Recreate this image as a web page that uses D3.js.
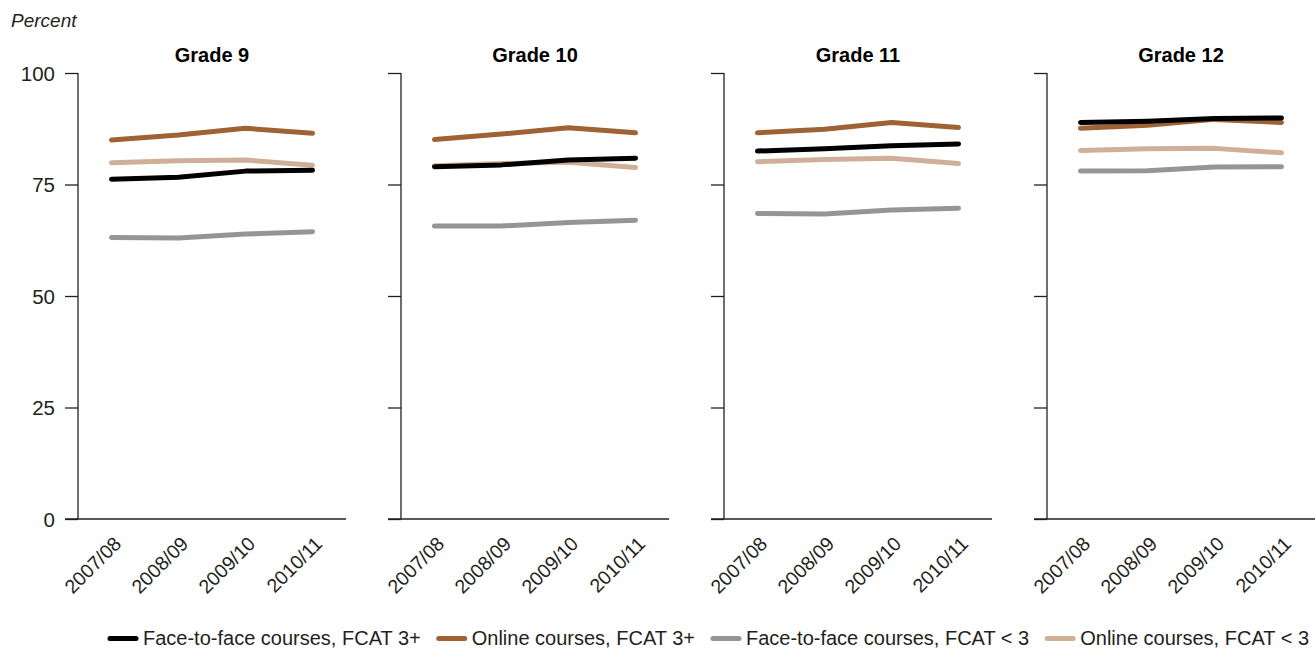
<!DOCTYPE html>
<html>
<head>
<meta charset="utf-8">
<script src="https://cdn.jsdelivr.net/npm/d3@7"></script>
<style>
  html, body { margin: 0; padding: 0; background: #fff; }
  svg { display: block; font-family: "Liberation Sans", Arial, sans-serif; }
</style>
</head>
<body>
<svg id="chart" width="1316" height="649"></svg>
<script>
const grades = ["Grade 9", "Grade 10", "Grade 11", "Grade 12"];
const years = ["2007/08", "2008/09", "2009/10", "2010/11"];
const yTicks = [0, 25, 50, 75, 100];

const seriesNames = [
  "Face-to-face courses, FCAT 3+",
  "Online courses, FCAT 3+",
  "Face-to-face courses, FCAT < 3",
  "Online courses, FCAT < 3"
];
const seriesColors = ["#000000", "#9e6235", "#939598", "#d0af98"];
// draw order: gray, tan, brown, black
const drawOrder = [2, 3, 1, 0];

// values per grade, per year
const faceToFace3 = [
  [76.2, 76.6, 78.0, 78.2],
  [79.0, 79.4, 80.5, 80.9],
  [82.5, 83.0, 83.7, 84.1],
  [88.9, 89.2, 89.8, 89.9]
];
const online3 = [
  [85.0, 86.1, 87.6, 86.5],
  [85.1, 86.3, 87.7, 86.6],
  [86.6, 87.4, 88.9, 87.8],
  [87.6, 88.3, 89.6, 88.9]
];
const faceToFaceLow = [
  [63.1, 63.0, 63.9, 64.4],
  [65.7, 65.7, 66.5, 67.0],
  [68.5, 68.4, 69.3, 69.7],
  [78.0, 78.1, 78.9, 79.0]
];
const onlineLow = [
  [79.9, 80.3, 80.5, 79.3],
  [79.2, 79.7, 80.0, 78.8],
  [80.1, 80.6, 80.9, 79.7],
  [82.6, 83.0, 83.1, 82.1]
];
const seriesValues = [faceToFace3, online3, faceToFaceLow, onlineLow];

const svg = d3.select("#chart");
const axisColor = "#231f20";

const panelX = d3.scalePoint().domain(grades).range([78, 78 + 3 * 323]);
const x = d3.scalePoint().domain(years).range([0, 268]).padding(0.5);
const y = d3.scaleLinear().domain([0, 100]).range([519, 73]);

svg.append("text")
  .attr("x", 11).attr("y", 27)
  .attr("font-size", 19).attr("font-style", "italic")
  .attr("fill", "#231f20")
  .text("Percent");

const line = d3.line().x((d, i) => x(years[i])).y(d => y(d));

grades.forEach((g, gi) => {
  const p = svg.append("g").attr("transform", `translate(${panelX(g)},0)`);

  // title
  p.append("text")
    .attr("x", 134).attr("y", 62)
    .attr("text-anchor", "middle")
    .attr("font-size", 20).attr("font-weight", "bold")
    .attr("fill", "#000")
    .text(g);

  // y axis
  const yAxis = d3.axisLeft(y).tickValues(yTicks).tickSize(13)
    .tickFormat(gi === 0 ? d3.format("d") : () => "");
  const ya = p.append("g").call(yAxis);
  ya.select(".domain").remove();
  ya.selectAll(".tick line").attr("stroke", axisColor).attr("stroke-width", 1.3);
  ya.selectAll(".tick text")
    .attr("font-size", 20.5).attr("fill", "#231f20")
    .attr("x", -23).attr("dy", "0.36em")
    .attr("font-family", "Liberation Sans, Arial, sans-serif");
  p.append("line")
    .attr("x1", 0).attr("x2", 0).attr("y1", y(100)).attr("y2", y(0))
    .attr("stroke", axisColor).attr("stroke-width", 1.3);

  // x baseline
  p.append("line")
    .attr("x1", -13).attr("x2", 268).attr("y1", y(0)).attr("y2", y(0))
    .attr("stroke", axisColor).attr("stroke-width", 1.3);

  // x labels
  p.selectAll(".xl").data(years).enter().append("text")
    .attr("class", "xl")
    .attr("transform", d => `translate(${x(d) + 11},${y(0) + 26}) rotate(-45)`)
    .attr("text-anchor", "end")
    .attr("font-size", 19.5).attr("fill", "#231f20")
    .text(d => d);

  // lines
  drawOrder.forEach(si => {
    p.append("path")
      .datum(seriesValues[si][gi])
      .attr("d", line)
      .attr("fill", "none")
      .attr("stroke", seriesColors[si])
      .attr("stroke-width", 5)
      .attr("stroke-linecap", "round")
      .attr("stroke-linejoin", "round");
  });
});

// legend
const legend = svg.append("g");
let lx = 108;
seriesNames.forEach((name, i) => {
  const it = legend.append("g").attr("transform", `translate(${lx},0)`);
  it.append("line")
    .attr("x1", 2).attr("x2", 28).attr("y1", 638.5).attr("y2", 638.5)
    .attr("stroke", seriesColors[i]).attr("stroke-width", 5)
    .attr("stroke-linecap", "round");
  const t = it.append("text")
    .attr("x", 35).attr("y", 645)
    .attr("font-size", 20).attr("fill", "#231f20")
    .text(name);
  lx += 35 + t.node().getComputedTextLength() + 16;
});
</script>
</body>
</html>
